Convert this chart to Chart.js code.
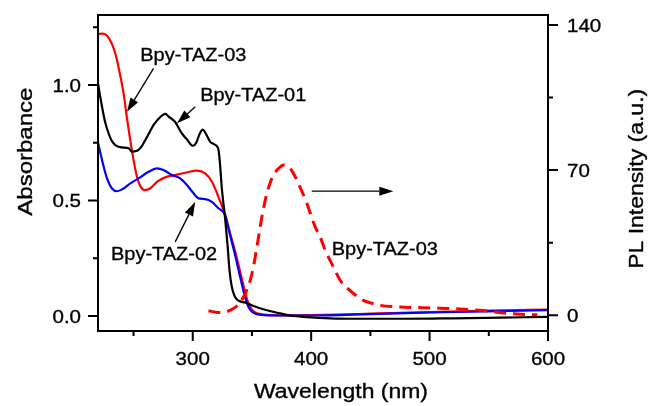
<!DOCTYPE html>
<html>
<head>
<meta charset="utf-8">
<script src="https://cdn.jsdelivr.net/npm/chart.js@4.4.1/dist/chart.umd.min.js"></script>
<style>
  html, body { margin: 0; padding: 0; background: #fff; }
  #wrap { width: 648px; height: 406px; }
</style>
</head>
<body>
<div id="wrap"><canvas id="chart"></canvas></div>
<script>
// Bpy-TAZ-03 absorbance (red)
const taz03Wl  = [220, 224, 227, 229.5, 232, 235, 238, 241.6, 244.5, 247, 249.5, 252.9, 256, 259.3, 264, 269.8, 276.8, 285, 293.7, 303.5, 310.5, 316.2, 321.7, 327.4, 332, 337.3, 342, 346, 349, 352, 356, 362, 380, 400, 450, 500, 550, 600];
const taz03Abs = [1.221, 1.222, 1.216, 1.2, 1.175, 1.13, 1.06, 0.964, 0.855, 0.77, 0.69, 0.603, 0.56, 0.545, 0.552, 0.581, 0.6, 0.61, 0.62, 0.629, 0.617, 0.581, 0.516, 0.436, 0.35, 0.25, 0.15, 0.07, 0.035, 0.018, 0.009, 0.005, 0.003, 0.004, 0.01, 0.017, 0.023, 0.028];

// Bpy-TAZ-02 absorbance (blue)
const taz02Wl  = [220, 220.5, 223.4, 227.6, 231.8, 236, 241.6, 247.3, 254.3, 262.7, 269.8, 275.3, 282.4, 289.4, 295.1, 300.7, 304.9, 310.5, 316.2, 321.7, 327.4, 331, 335, 340, 344, 347, 350, 354, 360, 380, 400, 450, 500, 550, 600];
const taz02Abs = [0.754, 0.74, 0.675, 0.596, 0.552, 0.54, 0.552, 0.574, 0.596, 0.624, 0.639, 0.632, 0.61, 0.596, 0.567, 0.531, 0.509, 0.506, 0.494, 0.466, 0.436, 0.36, 0.28, 0.17, 0.085, 0.04, 0.018, 0.008, 0.004, 0.002, 0.002, 0.008, 0.015, 0.02, 0.025];

// Bpy-TAZ-01 absorbance (black)
const taz01Wl  = [220, 221.5, 223.4, 226, 229, 231.5, 234.6, 240, 245.8, 248.7, 251, 254, 257, 260, 263.5, 267, 272, 276.8, 280, 285, 288, 290.9, 295, 300.2, 303, 305.5, 308.5, 311, 314.8, 317.5, 320.4, 321.8, 323, 324.6, 327.4, 329.5, 331, 333, 335, 337.3, 341, 345.7, 352, 362.6, 375, 385, 400, 420, 450, 480, 520, 560, 600];
const taz01Abs = [1.007, 0.96, 0.906, 0.84, 0.79, 0.76, 0.74, 0.73, 0.726, 0.711, 0.713, 0.718, 0.735, 0.762, 0.795, 0.827, 0.858, 0.875, 0.862, 0.841, 0.815, 0.79, 0.765, 0.737, 0.75, 0.785, 0.807, 0.79, 0.754, 0.745, 0.735, 0.718, 0.66, 0.55, 0.42, 0.3, 0.2, 0.126, 0.09, 0.071, 0.062, 0.056, 0.042, 0.025, 0.01, 0.0, -0.006, -0.011, -0.012, -0.012, -0.01, -0.007, -0.004];

// Bpy-TAZ-03 photoluminescence (red dashed, right axis)
const plWl  = [313.3, 318, 323, 328, 334.4, 339, 342.9, 346, 348.6, 351.5, 354.2, 356.5, 358.4, 360.5, 362.6, 365.5, 368.2, 372, 377, 380, 382.3, 385, 387.9, 392, 396.4, 400, 403.4, 407.6, 411.8, 418.8, 424.5, 430, 435.7, 444, 451, 458, 475, 503, 520, 542.6, 555, 568, 580, 591];
const plInt = [2.2, 1.6, 1.3, 1.6, 3.2, 5.5, 8.8, 12.5, 16.9, 24, 33, 41, 47.5, 53.5, 58.8, 64, 67.6, 70.5, 72.4, 72.1, 70.8, 68.5, 65.2, 60, 53.9, 48, 42.6, 37.8, 31.4, 23.3, 16.9, 13.3, 10.5, 7.2, 5.8, 4.8, 4.0, 3.5, 3.2, 2.4, 1.6, 0.8, 0.4, 0.2];

// axis ticks
const xMajor = [300, 400, 500, 600];
const xMinor = [250, 350, 450, 550];
const yMajor = [0, 0.5, 1.0];
const yMinor = [0.25, 0.75, 1.25];
const rMajor = [0, 70, 140];
const rMinor = [35, 105];

// text labels and arrows, in data units of the wavelength / absorbance axes
const notes = [
  { text: "Bpy-TAZ-03", x: 255.7, y: 1.104 },
  { text: "Bpy-TAZ-01", x: 306.3, y: 0.932 },
  { text: "Bpy-TAZ-02", x: 231.0, y: 0.2445 },
  { text: "Bpy-TAZ-03", x: 417.4, y: 0.263 }
];
const arrows = [
  { from: [266.9, 1.072], to: [244.5, 0.884] },
  { from: [302.1, 0.906], to: [286.7, 0.834] },
  { from: [285.2, 0.321], to: [302.1, 0.494] },
  { from: [400.5, 0.5405], to: [469.4, 0.5405] }
];

const FONT = '"Liberation Sans", Arial, sans-serif';

function pts(xs, ys) {
  return xs.map((x, i) => ({ x: x, y: ys[i] }));
}

// draws text stretched along its own direction
function stretchText(ctx, text, x, y, size, sx, align, rot) {
  ctx.save();
  ctx.translate(x, y);
  if (rot) ctx.rotate(rot);
  ctx.scale(sx, 1);
  ctx.font = size + "px " + FONT;
  ctx.textAlign = align;
  ctx.textBaseline = "alphabetic";
  ctx.fillStyle = "#000";
  ctx.strokeStyle = "#000";
  ctx.lineWidth = 0.35;
  ctx.fillText(text, 0, 0);
  ctx.strokeText(text, 0, 0);
  ctx.restore();
}

const decor = {
  id: "decor",
  afterDraw(chart) {
    const ctx = chart.ctx;
    const a = chart.chartArea;
    const sx = chart.scales.x, sy = chart.scales.y, sr = chart.scales.y1;
    ctx.save();
    ctx.strokeStyle = "#000";
    ctx.lineWidth = 2;
    ctx.strokeRect(a.left, a.top, a.right - a.left, a.bottom - a.top);

    ctx.beginPath();
    xMajor.forEach(v => { const p = sx.getPixelForValue(v); ctx.moveTo(p, a.bottom); ctx.lineTo(p, a.bottom + 10); });
    xMinor.forEach(v => { const p = sx.getPixelForValue(v); ctx.moveTo(p, a.bottom); ctx.lineTo(p, a.bottom + 5); });
    yMajor.forEach(v => { const p = sy.getPixelForValue(v); ctx.moveTo(a.left, p); ctx.lineTo(a.left - 10, p); });
    yMinor.forEach(v => { const p = sy.getPixelForValue(v); ctx.moveTo(a.left, p); ctx.lineTo(a.left - 5, p); });
    rMajor.forEach(v => { const p = sr.getPixelForValue(v); ctx.moveTo(a.right, p); ctx.lineTo(a.right + 10, p); });
    rMinor.forEach(v => { const p = sr.getPixelForValue(v); ctx.moveTo(a.right, p); ctx.lineTo(a.right + 5, p); });
    ctx.stroke();

    xMajor.forEach(v => stretchText(ctx, String(v), sx.getPixelForValue(v), a.bottom + 34, 19, 1.08, "center"));
    yMajor.forEach(v => stretchText(ctx, v.toFixed(1), a.left - 17, sy.getPixelForValue(v) + 6.7, 19, 1.08, "right"));
    rMajor.forEach(v => stretchText(ctx, String(v), a.right + 19, sr.getPixelForValue(v) + 6.7, 19, 1.08, "left"));

    stretchText(ctx, "Wavelength (nm)", 341, 397.5, 20.5, 1.12, "center");
    stretchText(ctx, "Absorbance", 31.5, 151.7, 20.5, 1.17, "center", -Math.PI / 2);
    stretchText(ctx, "PL Intensity (a.u.)", 643, 178.8, 20.5, 1.12, "center", -Math.PI / 2);

    notes.forEach(n => stretchText(ctx, n.text, sx.getPixelForValue(n.x), sy.getPixelForValue(n.y), 19, 1.05, "left"));

    ctx.lineWidth = 1.3;
    ctx.fillStyle = "#000";
    arrows.forEach(ar => {
      const x0 = sx.getPixelForValue(ar.from[0]), y0 = sy.getPixelForValue(ar.from[1]);
      const x1 = sx.getPixelForValue(ar.to[0]), y1 = sy.getPixelForValue(ar.to[1]);
      const ang = Math.atan2(y1 - y0, x1 - x0);
      const len = 14, hw = 4.5;
      const bx = x1 - len * Math.cos(ang), by = y1 - len * Math.sin(ang);
      ctx.beginPath();
      ctx.moveTo(x0, y0);
      ctx.lineTo(bx, by);
      ctx.stroke();
      ctx.beginPath();
      ctx.moveTo(x1, y1);
      ctx.lineTo(bx + hw * Math.sin(ang), by - hw * Math.cos(ang));
      ctx.lineTo(bx - hw * Math.sin(ang), by + hw * Math.cos(ang));
      ctx.closePath();
      ctx.fill();
    });
    ctx.restore();
  }
};

const ctx = document.getElementById("chart").getContext("2d");
new Chart(ctx, {
  type: "line",
  data: {
    datasets: [
      { label: "Bpy-TAZ-03", data: pts(taz03Wl, taz03Abs), yAxisID: "y", borderColor: "#ff0000", borderWidth: 2.2, order: 4 },
      { label: "Bpy-TAZ-02", data: pts(taz02Wl, taz02Abs), yAxisID: "y", borderColor: "#0000ff", borderWidth: 2.2, order: 3 },
      { label: "Bpy-TAZ-01", data: pts(taz01Wl, taz01Abs), yAxisID: "y", borderColor: "#000000", borderWidth: 2.2, order: 2 },
      { label: "Bpy-TAZ-03 PL", data: pts(plWl, plInt), yAxisID: "y1", borderColor: "#ff0000", borderWidth: 3, borderDash: [12, 7], order: 1 }
    ]
  },
  options: {
    responsive: true,
    maintainAspectRatio: false,
    devicePixelRatio: 1,
    animation: false,
    layout: { padding: { top: 15, left: 0, right: 0, bottom: 0 } },
    elements: {
      point: { radius: 0 },
      line: { fill: false, cubicInterpolationMode: "monotone" }
    },
    plugins: { legend: { display: false }, tooltip: { enabled: false } },
    scales: {
      x: {
        type: "linear", min: 220, max: 600,
        ticks: { display: false }, grid: { display: false }, border: { display: false },
        afterFit: s => { s.height = 75; }
      },
      y: {
        position: "left", min: -0.065, max: 1.303,
        ticks: { display: false }, grid: { display: false }, border: { display: false },
        afterFit: s => { s.width = 98; }
      },
      y1: {
        position: "right", min: -7.6, max: 144.8,
        ticks: { display: false }, grid: { display: false }, border: { display: false },
        afterFit: s => { s.width = 100; }
      }
    }
  },
  plugins: [decor]
});
</script>
</body>
</html>
